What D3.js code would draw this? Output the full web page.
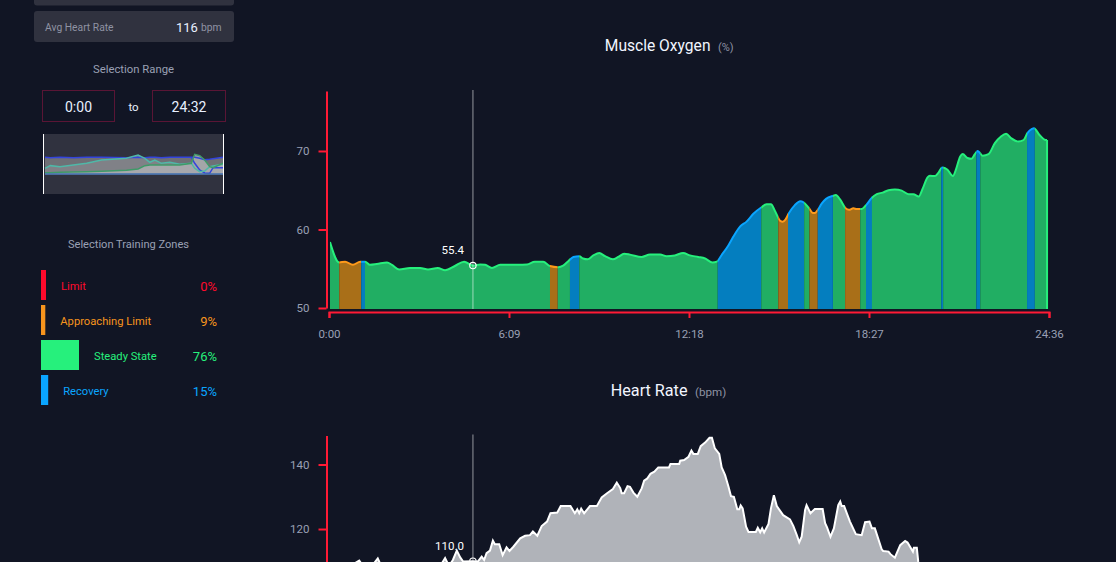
<!DOCTYPE html>
<html>
<head>
<meta charset="utf-8">
<title>Muscle Oxygen</title>
<script src="https://cdn.jsdelivr.net/npm/d3@7"></script>
<style>
  html, body { margin: 0; background: #111524; overflow: hidden; }
  svg { display: block; }
  text { font-family: Roboto, "Noto Sans", sans-serif; }
  .axis path, .axis line { stroke: #ff1a35; stroke-width: 2; }
  .axis text { fill: #9aa0b4; font-size: 11.5px; font-family: Roboto, sans-serif; }
</style>
</head>
<body>
<div id="drawArea"></div>
<script>
// muscle oxygen: seconds and percent
var moTime = [2,21,33,49,64,74,84,98,119,129,144,166,187,203,223,238,258,277,295,310,320,334,351,387,406,422,439,453,470,480,491,501,513,521,530,542,554,566,582,593,605,617,641,658,679,692,709,726,740,757,771,786,795,805,819,829,843,856,870,886,897,906,914,925,930,936,943,955,966,974,983,992,996,1001,1010,1019,1034,1039,1048,1059,1066,1075,1082,1092,1101,1113,1123,1135,1147,1160,1174,1188,1198,1209,1217,1227,1232,1242,1249,1257,1268,1279,1285,1294,1299,1309,1317,1324,1330,1340,1352,1365,1377,1388,1399,1413,1424,1432,1441,1445,1457,1469,1472];
var moValues = [58.4,55.8,55.9,55.5,55.9,55.9,55.5,55.6,55.8,55.5,54.9,55.1,55.1,54.9,55.1,54.8,55.35,55.9,55.4,55.55,55.5,55.1,55.5,55.5,55.55,55.9,55.9,55.35,55.2,55.4,56.0,56.5,56.6,56.3,56.2,56.7,57.0,56.6,56.2,56.5,56.9,56.8,56.5,56.8,56.8,56.6,56.7,57.0,56.7,56.5,56.3,55.8,55.9,56.75,58.0,59.1,60.4,61.0,62.0,62.8,63.2,63.2,62.4,61.1,61.0,61.3,62.1,63.1,63.6,63.4,62.8,62.1,62.1,62.4,63.3,63.9,64.3,64.4,63.8,62.7,62.5,62.7,62.6,62.6,63.1,64.05,64.5,64.7,65.0,65.1,64.95,64.5,64.5,64.2,65.2,66.65,66.85,66.8,67.2,67.9,67.6,66.8,67.6,69.3,69.6,69.1,69.0,69.6,70.0,69.4,69.6,71.0,71.8,72.2,71.6,71.2,71.4,72.3,72.8,72.9,72.0,71.4,71.4];
var moBase = 49.87;
var moCursor = 295, moCursorValue = 55.4;

// zone segments along the muscle oxygen curve
var zoneStart = [2,21,66,74,453,469,494,513,797,886,921,941,974,985,1002,1033,1058,1089,1101,1113,1255,1259,1327,1335,1431,1447];
var zoneEnd   = [21,66,74,453,469,494,513,797,886,921,941,974,985,1002,1033,1058,1089,1101,1113,1255,1259,1327,1335,1431,1447,1472];
var zoneKind  = ["S","A","R","S","A","S","R","S","R","S","A","R","S","A","R","S","A","S","R","S","R","S","R","S","R","S"];

// heart rate: seconds and bpm (the low end runs past the bottom of the window)
var hrTime = [2,43,62,70,88,100,107,228,238,246,254,262,269,275,295,305,313,318,323,330,336,340,349,356,364,370,378,392,402,412,418,427,436,447,454,468,475,495,504,509,513,517,523,535,549,559,570,582,590,597,600,605,612,617,624,632,641,646,652,659,667,675,697,700,718,720,728,737,743,747,756,762,771,780,785,791,800,805,812,819,824,830,837,841,844,848,855,860,875,879,884,888,892,901,906,912,918,931,945,952,959,964,969,976,979,987,996,1012,1017,1021,1028,1035,1044,1048,1051,1056,1068,1080,1092,1099,1108,1113,1119,1133,1136,1147,1151,1160,1171,1181,1186,1197,1199,1205,1208,1215,1472];
var hrValues = [105.7,108.5,110.2,108.5,108.5,110.9,108.5,108.5,111.0,108.5,110.4,113.3,111.2,109.9,110.0,109.9,111.4,110.4,112.5,113.3,116.4,115.3,115.3,111.9,114.3,113.2,114.5,117.1,117.9,118.1,119.2,117.9,120.9,122.3,124.9,125.1,127.1,127.1,124.9,126.1,124.9,126.3,124.9,127.1,127.1,129.8,131.1,132.4,134.4,132.7,131.1,131.1,133.3,133.1,131.3,130.0,132.6,135.0,135.6,137.1,137.8,139.1,139.1,140.2,140.2,141.2,141.4,142.4,144.3,143.3,143.3,145.7,146.8,148.3,148.3,145.0,143.3,139.1,136.7,133.1,130.2,130.0,126.1,126.1,127.3,126.4,120.7,119.1,119.1,120.4,119.0,120.2,118.9,121.6,126.4,130.5,127.1,124.3,123.0,120.9,118.1,115.9,117.6,125.9,127.4,124.9,126.2,126.2,121.8,120.5,117.6,120.2,127.4,128.5,127.1,127.1,122.3,118.4,118.1,122.1,122.3,120.2,120.2,113.7,113.2,113.0,112.2,111.1,115.0,116.3,115.8,113.0,114.2,114.2,109.8,105,103];
var hrCursor = 295, hrCursorValue = 110.0;

var timeTicks = [0,369,738,1107,1476];
var moTicks = [50,60,70];
var hrTicks = [120,140];

// sidebar legend. barSize is what the bars are drawn from, limit has a stub at 0%
var legendNames = ["Limit","Approaching Limit","Steady State","Recovery"];
var legendPct = [0,9,76,15];
var barSize = [10,8.6,76,14.4];
var legendColors = ["#ff0a2c","#f7941d","#26f07c","#0aa5ff"];

// overview strip, percent of the range and a relative level
var miniX = [0,3,8.4,15.9,23.4,31.8,45.8,52.3,56.1,58.9,61.7,65.4,70.1,75.7,82.2,84.1,86.9,89.7,92.5,94.4,100];
var miniBlue = [51,50,51,50,51,51,50,51,50,51,51,50,51,51,51,51,48,44,45,47,51];
var miniTeal = [18,26,23,28,33,43,48,58,48,36,43,33,36,30,33,18,8,10,23,25,30];
var miniGreen = [5,5,6,7,8,9,12,16,26,28,28,28,28,28,33,60,56,43,23,20,33];
var miniDipX = [82.2,84.1,86.9,89.7,92.5,94.4,100];
var miniDip = [51,33,13,4,3,20,20];

var zoneFill = {S:"#21ae63", A:"#a96f18", R:"#047ebf"};
var zoneLine = {S:"#26f07c", A:"#ff9a1a", R:"#0aa5ff"};

var W = 1116, H = 562;
var panel = "#30323f";

var svg = d3.select("#drawArea").append("svg").attr("width", W).attr("height", H);
var defs = svg.append("defs");

function fmt(s){
  var m = Math.floor(s/60), r = s%60;
  return m + ":" + (r<10 ? "0" : "") + r;
}

// ---- sidebar ----
var side = svg.append("g");
side.append("rect").attr("x",34).attr("y",-10).attr("width",200).attr("height",15.5).attr("rx",3).attr("fill",panel);
side.append("rect").attr("x",34).attr("y",11).attr("width",200).attr("height",31).attr("rx",3).attr("fill",panel);
side.append("text").attr("x",45).attr("y",31).attr("font-size",10.3).attr("fill","#8f93a3").text("Avg Heart Rate");
side.append("text").attr("x",176).attr("y",31.5).attr("font-size",13).attr("fill","#e8f0ff").text("116");
side.append("text").attr("x",201).attr("y",31).attr("font-size",10.3).attr("fill","#8f93a3").text("bpm");

side.append("text").attr("x",133.5).attr("y",73).attr("text-anchor","middle").attr("font-size",11.3).attr("fill","#9aa0b4").text("Selection Range");
[[42.5,"0:00"],[152.5,"24:32"]].forEach(function(b){
  side.append("rect").attr("x",b[0]).attr("y",90.5).attr("width",b[0]<100?72:73).attr("height",31)
    .attr("fill","none").attr("stroke","#5a1535");
  side.append("text").attr("x",b[0]+(b[0]<100?36:36.5)).attr("y",112).attr("text-anchor","middle")
    .attr("font-size",14).attr("fill","#e8f0ff").text(b[1]);
});
side.append("text").attr("x",133.5).attr("y",111).attr("text-anchor","middle").attr("font-size",11.5).attr("fill","#e8f0ff").text("to");

// overview strip
side.append("rect").attr("x",44).attr("y",134).attr("width",179).attr("height",60).attr("fill",panel);
var mX = d3.scaleLinear().domain([0,100]).range([45,223]);
var mY = d3.scaleLinear().domain([0,60]).range([174.3,154.3]);
function miniArea(vals, xs){
  return d3.area().x(function(d,i){ return mX(xs[i]); }).y0(mY(0)).y1(function(d){ return mY(d); })(vals);
}
function miniLine(vals, xs){
  return d3.line().x(function(d,i){ return mX(xs[i]); }).y(function(d){ return mY(d); })(vals);
}
side.append("path").attr("d",miniArea(miniBlue,miniX)).attr("fill","#6f7076");
side.append("path").attr("d",miniArea(miniTeal,miniX)).attr("fill","#808187");
side.append("path").attr("d",miniArea(miniGreen,miniX)).attr("fill","#aeafb3").attr("opacity",.85);
side.append("path").attr("d",miniLine(miniBlue,miniX)).attr("fill","none").attr("stroke","#3344dd").attr("stroke-width",1.5);
side.append("path").attr("d",miniLine(miniDip,miniDipX)).attr("fill","none").attr("stroke","#3344dd").attr("stroke-width",1.5);
side.append("path").attr("d",miniLine(miniTeal,miniX)).attr("fill","none").attr("stroke","#4fb8a8").attr("stroke-width",1.5);
side.append("path").attr("d",miniLine(miniGreen,miniX)).attr("fill","none").attr("stroke","#3f9a68").attr("stroke-width",1.5);
side.append("line").attr("x1",45).attr("x2",223).attr("y1",174).attr("y2",174).attr("stroke","#3f6fb0").attr("stroke-width",1.5);
[43.5,223.5].forEach(function(x){
  side.append("line").attr("x1",x).attr("x2",x).attr("y1",134).attr("y2",194).attr("stroke","#fff");
});

// training zones legend
side.append("text").attr("x",128.5).attr("y",248).attr("text-anchor","middle").attr("font-size",11.1).attr("fill","#9aa0b4").text("Selection Training Zones");
var barX = d3.scaleLinear().domain([0,100]).range([0,50]);
var rowY = d3.scaleBand().domain(legendNames).range([270,410]);
var rows = side.selectAll("g.zone").data(legendNames).enter().append("g").attr("class","zone")
  .attr("transform", function(d){ return "translate(41," + rowY(d) + ")"; });
rows.append("rect").attr("width", function(d,i){ return barX(barSize[i]); }).attr("height",30)
  .attr("fill", function(d,i){ return legendColors[i]; });
rows.append("text").attr("x", function(d,i){ return barX(barSize[i]) + 15; }).attr("y",20)
  .attr("font-size",11.2).attr("fill", function(d,i){ return legendColors[i]; }).text(function(d){ return d; });
rows.append("text").attr("x",176).attr("y",21).attr("text-anchor","end")
  .attr("font-size",13).attr("fill", function(d,i){ return legendColors[i]; })
  .text(function(d,i){ return legendPct[i] + "%"; });

// ---- charts ----
var x = d3.scaleLinear().domain([0,1476]).range([329,1049]);
var moY = d3.scaleLinear().domain([50,77.64]).range([308,91]);
var hrY = d3.scaleLinear().domain([100,149]).range([593.5,435.5]);

function title(label, unit, ty, ux, size, usize){
  svg.append("text").attr("x",ux-7.5).attr("y",ty).attr("text-anchor","end").attr("font-size",size).attr("fill","#f2f5ff").text(label);
  svg.append("text").attr("x",ux).attr("y",ty).attr("font-size",usize).attr("fill","#8f93a3").text(unit);
}
title("Muscle Oxygen","(%)",51,718,15.6,11);
title("Heart Rate","(bpm)",395.5,695,16.2,11.6);

// muscle oxygen area, one clipped copy for each zone
var moArea = d3.area().x(function(d,i){ return x(moTime[i]); }).y0(moY(moBase))
  .y1(function(d){ return moY(d); }).curve(d3.curveMonotoneX);
var moLine = d3.line().x(function(d,i){ return x(moTime[i]); })
  .y(function(d){ return moY(d); }).curve(d3.curveMonotoneX);
var moG = svg.append("g");
zoneKind.forEach(function(k,i){
  var id = "zone" + i;
  defs.append("clipPath").attr("id",id).append("rect")
    .attr("x",x(zoneStart[i])).attr("y",0)
    .attr("width",x(zoneEnd[i])-x(zoneStart[i])+ (i==zoneKind.length-1 ? 2 : 0)).attr("height",moY(moBase));
  var g = moG.append("g").attr("clip-path","url(#"+id+")");
  g.append("path").attr("d",moArea(moValues)).attr("fill",zoneFill[k]);
  g.append("path").attr("d",moLine(moValues)).attr("fill","none").attr("stroke",zoneLine[k]).attr("stroke-width",2);
});
var moEnd = moTime.length-1;
moG.append("line").attr("x1",x(moTime[moEnd])).attr("x2",x(moTime[moEnd]))
  .attr("y1",moY(moValues[moEnd])).attr("y2",moY(moBase)).attr("stroke",zoneLine.S).attr("stroke-width",2);

// heart rate area
svg.append("path").attr("fill","#b0b3b9")
  .attr("d", d3.area().x(function(d,i){ return x(hrTime[i]); }).y0(hrY(100)).y1(function(d){ return hrY(d); })(hrValues));
svg.append("path").attr("fill","none").attr("stroke","#fff").attr("stroke-width",2)
  .attr("d", d3.line().x(function(d,i){ return x(hrTime[i]); }).y(function(d){ return hrY(d); })(hrValues));

// axes
svg.append("g").attr("class","axis").attr("transform","translate(0,312)")
  .call(d3.axisBottom(x).tickValues(timeTicks).tickFormat(fmt).tickSize(6).tickPadding(12));
svg.append("g").attr("class","axis").attr("transform","translate(326.5,0)")
  .call(d3.axisLeft(moY).tickValues(moTicks).tickSize(8).tickSizeOuter(0).tickPadding(9));
svg.append("g").attr("class","axis").attr("transform","translate(326.5,0)")
  .call(d3.axisLeft(hrY).tickValues(hrTicks).tickSize(8).tickSizeOuter(0).tickPadding(9));

// cursor on both charts
function cursor(t, v, y, top, bottom){
  var cx = x(t), cy = y(v);
  svg.append("line").attr("x1",cx).attr("x2",cx).attr("y1",top).attr("y2",bottom)
    .attr("stroke","#fff").attr("stroke-opacity",.35).attr("stroke-width",1.6);
  svg.append("circle").attr("cx",cx).attr("cy",cy).attr("r",3.2).attr("fill","none").attr("stroke","#fff").attr("stroke-width",1.1);
  svg.append("text").attr("x",cx-9).attr("y",cy-11.5).attr("text-anchor","end").attr("font-size",11.5)
    .attr("fill","#fff").text(v.toFixed(1));
}
cursor(moCursor, moCursorValue, moY, 90, moY(moBase));
cursor(hrCursor, hrCursorValue, hrY, 434.5, 600);
</script>
</body>
</html>
